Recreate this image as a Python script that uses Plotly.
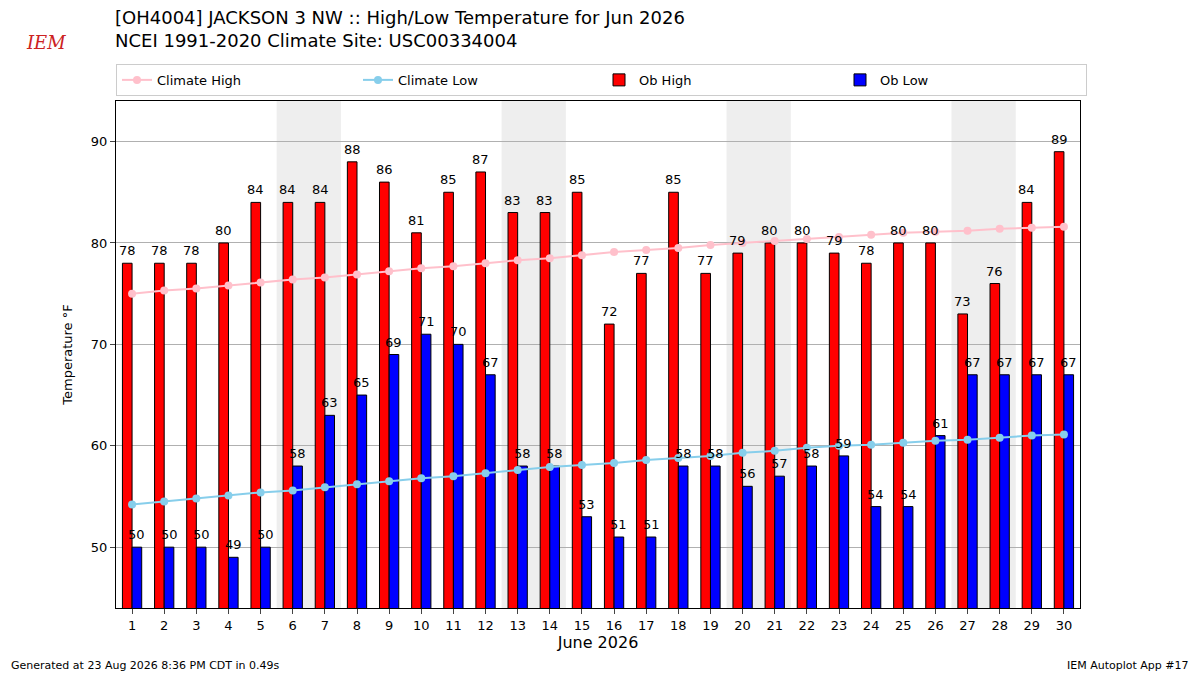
import plotly.graph_objects as go

days = list(range(1, 31))
ob_high = [78, 78, 78, 80, 84, 84, 84, 88, 86, 81, 85, 87, 83, 83, 85, 72, 77, 85, 77, 79,
           80, 80, 79, 78, 80, 80, 73, 76, 84, 89]
ob_low = [50, 50, 50, 49, 50, 58, 63, 65, 69, 71, 70, 67, 58, 58, 53, 51, 51, 58, 58, 56,
          57, 58, 59, 54, 54, 61, 67, 67, 67, 67]
clim_high = [75.0, 75.3, 75.5, 75.8, 76.1, 76.4, 76.6, 76.9, 77.2, 77.5, 77.7, 78.0, 78.3, 78.5, 78.8,
             79.1, 79.3, 79.5, 79.8, 80.0, 80.2, 80.4, 80.6, 80.8, 81.0, 81.1, 81.2, 81.4, 81.5, 81.6]
clim_low = [54.2, 54.5, 54.8, 55.1, 55.4, 55.6, 55.9, 56.2, 56.5, 56.8, 57.0, 57.3, 57.6, 57.9, 58.1,
            58.3, 58.6, 58.8, 59.0, 59.3, 59.5, 59.8, 60.0, 60.1, 60.3, 60.5, 60.6, 60.8, 61.0, 61.1]

fig = go.Figure()
fig.add_trace(go.Scatter(x=days, y=clim_high, mode="lines+markers", name="Climate High",
                         line=dict(color="pink", width=2), marker=dict(size=8, color="pink")))
fig.add_trace(go.Scatter(x=days, y=clim_low, mode="lines+markers", name="Climate Low",
                         line=dict(color="skyblue", width=2), marker=dict(size=8, color="skyblue")))
fig.add_trace(go.Bar(x=days, y=ob_high, name="Ob High", width=0.3, offset=-0.3, base=0,
                     marker=dict(color="red", line=dict(color="black", width=1))))
fig.add_trace(go.Bar(x=days, y=ob_low, name="Ob Low", width=0.3, offset=0.0, base=0,
                     marker=dict(color="blue", line=dict(color="black", width=1))))

# value labels above bars
for d, hi, lo in zip(days, ob_high, ob_low):
    fig.add_annotation(x=d - 0.15, y=hi, text=str(hi), showarrow=False, yanchor="bottom",
                       yshift=3, font=dict(size=13))
    fig.add_annotation(x=d + 0.15, y=lo, text=str(lo), showarrow=False, yanchor="bottom",
                       yshift=3, font=dict(size=13))

# weekend shading
for s in [5.5, 12.5, 19.5, 26.5]:
    fig.add_vrect(x0=s, x1=s + 2, fillcolor="#eeeeee", line_width=0, layer="below")

fig.update_layout(
    width=1200, height=675, plot_bgcolor="white", paper_bgcolor="white",
    font=dict(family="DejaVu Sans", size=13, color="black"),
    margin=dict(l=108, r=128, t=93, b=75, autoexpand=False),
    showlegend=True,
    legend=dict(orientation="h", x=0, y=1.01, xanchor="left", yanchor="bottom",
                entrywidth=0.25, entrywidthmode="fraction", bordercolor="#cccccc",
                borderwidth=1, font=dict(size=13)),
    xaxis=dict(range=[0.5, 30.5], tickmode="array", tickvals=days, showgrid=False,
               ticks="outside", showline=True, linecolor="black", mirror=True,
               title=dict(text="June 2026", font=dict(size=16), standoff=5)),
    yaxis=dict(range=[44, 94], tickvals=[50, 60, 70, 80, 90], showgrid=True, gridcolor="#b0b0b0",
               ticks="outside", showline=True, linecolor="black", mirror=True,
               title=dict(text="Temperature °F", font=dict(size=13))),
)
fig.add_annotation(text="[OH4004] JACKSON 3 NW :: High/Low Temperature for Jun 2026<br>NCEI 1991-2020 Climate Site: USC00334004",
                   xref="paper", yref="paper", x=-0.003, y=1.19, xanchor="left", yanchor="top",
                   showarrow=False, align="left", font=dict(size=18))
fig.add_annotation(text="<i>IEM</i>", xref="paper", yref="paper", x=-0.095, y=1.14, xanchor="left",
                   showarrow=False, font=dict(size=18, color="#cc2222", family="DejaVu Serif"))
fig.add_annotation(text="Generated at 23 Aug 2026 8:36 PM CDT in 0.49s", xref="paper", yref="paper",
                   x=-0.111, y=-0.13, xanchor="left", yanchor="bottom", showarrow=False, font=dict(size=11))
fig.add_annotation(text="IEM Autoplot App #17", xref="paper", yref="paper", x=1.115, y=-0.13,
                   xanchor="right", yanchor="bottom", showarrow=False, font=dict(size=11))

fig.write_html("out.html")
